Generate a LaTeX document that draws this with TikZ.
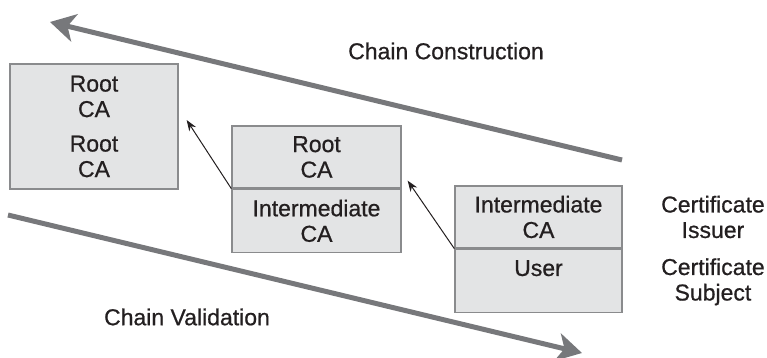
\documentclass[tikz,border=0pt]{standalone}
\usepackage{fontspec}
\setmainfont{Liberation Sans}
\newfontfamily\medfont[FakeBold=0.7]{Liberation Sans}
\usepackage{tikz}
\usetikzlibrary{positioning, arrows.meta, calc}

\definecolor{boxfill}{HTML}{E3E4E5}
\definecolor{boxline}{HTML}{8A8B8D}
\definecolor{flowgray}{HTML}{77787B}
\definecolor{inkblack}{HTML}{231F20}

\begin{document}
\begin{tikzpicture}[x=1pt, y=-1pt,
			certbox/.style={draw=boxline, line width=1.3pt, fill=boxfill, rectangle, align=center, inner sep=0pt, font=\medfont\fontsize{23}{25.5}\selectfont, text=inkblack},
			side/.style={align=center, font=\medfont\fontsize{23}{25.5}\selectfont, text=inkblack},
			flow/.style={-{Stealth[length=25pt, width=28pt, inset=7pt]}, line width=5pt, draw=flowgray},
			signs/.style={-{Stealth[length=11pt, width=8pt]}, line width=1pt, draw=inkblack}
			]
			
			\useasboundingbox (0,0) rectangle (767,358);
			
			% Cadeia de certificados
			\node[certbox, minimum width=168pt, minimum height=125pt] (root) at (94,126.5) {Root\\CA\\[9pt]Root\\CA};
			
			\node[certbox, minimum width=169pt, minimum height=62pt] (rootca) at (316.5,157) {Root\\CA};
			\node[certbox, minimum width=169pt, minimum height=63pt, below=0pt of rootca] (interca) {Intermediate\\CA};
			
			\node[certbox, minimum width=167pt, minimum height=62pt] (issuer) at (538.5,217) {Intermediate\\CA};
			\node[certbox, minimum width=167pt, minimum height=63pt, below=0pt of issuer] (user) {User\\\mbox{}};
			
			% Legendas laterais
			\node[side, right=35pt of issuer] (issuerlbl) {Certificate\\Issuer};
			\node[side, right=35pt of user, yshift=-1pt] (subjectlbl) {Certificate\\Subject};
			
			% Setas de construcao e validacao
			\coordinate (cstart) at (622,160);
			\coordinate (cend) at (50,22);
			\coordinate (vstart) at (8,215);
			\coordinate (vend) at (582,353);
			\draw[flow] (cstart) -- (cend);
			\draw[flow] (vstart) -- (vend);
			\node[side] (construct) at (446,51) {Chain Construction};
			\node[side] (validate) at (187,317) {Chain Validation};
			
			% Assinaturas
			\draw[signs] (rootca.south west) -- ($(root.east)+(8pt,6.5pt)$);
			\draw[signs] (issuer.south west) -- ($(rootca.south east)+(6pt,8pt)$);
			
		\end{tikzpicture}
\end{document}
